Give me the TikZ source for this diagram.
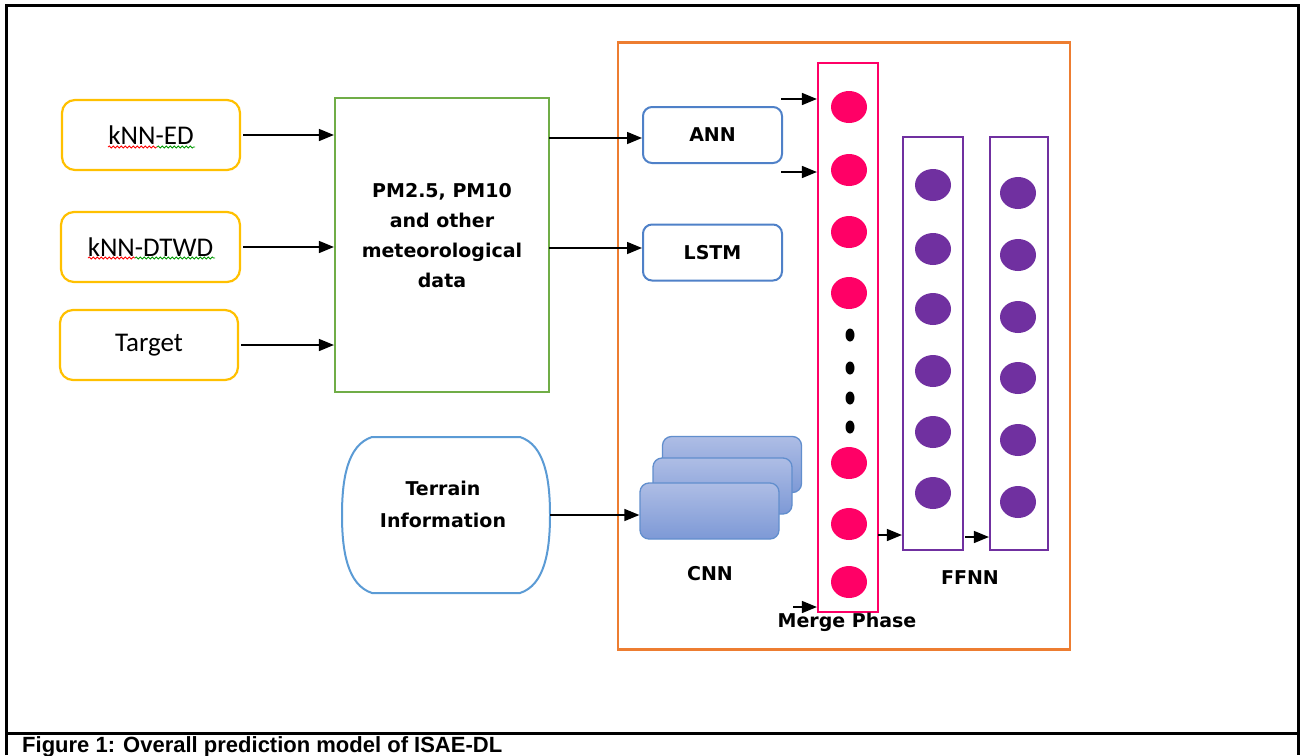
\documentclass[tikz,border=0pt]{standalone}
\usepackage{fontspec}
\setmainfont{Carlito}
\newfontfamily\boldsans{DejaVu Sans}
\newfontfamily\capfont{Liberation Sans}
\usetikzlibrary{arrows.meta,shapes.geometric,decorations.pathmorphing}
\definecolor{cyel}{HTML}{FFC000}
\definecolor{cgreen}{HTML}{70AD47}
\definecolor{corange}{HTML}{ED7D31}
\definecolor{cblue}{HTML}{4F81C8}
\definecolor{cpink}{HTML}{FF0066}
\definecolor{cpurple}{HTML}{7030A0}
\definecolor{cterr}{HTML}{5B9BD5}
\definecolor{cnntop}{HTML}{AEBDE5}
\definecolor{cnnbot}{HTML}{7D99D6}
\tikzset{
  inbox/.style={draw=cyel, line width=2.2pt, rounded corners=13pt, font=\fontsize{27}{30}\selectfont, inner sep=0pt},
  bl/.style={font=\boldsans\bfseries\fontsize{19}{30}\selectfont, align=center, inner sep=0pt},
  modbox/.style={draw=cblue, line width=2pt, rounded corners=9pt, minimum width=139pt, minimum height=56pt, inner sep=0pt},
  cnnbox/.style={draw=cblue!90, line width=1.3pt, rounded corners=9pt, minimum width=139pt, minimum height=56pt, top color=cnntop, bottom color=cnnbot, inner sep=0pt},
  arr/.style={-{Triangle[length=15pt,width=12pt]}, line width=1.5pt, black},
  rdot/.style={ellipse, fill=cpink, minimum width=36pt, minimum height=32pt, inner sep=0pt},
  pdot/.style={ellipse, fill=cpurple, minimum width=36pt, minimum height=32pt, inner sep=0pt},
  kdot/.style={ellipse, fill=black, minimum width=9pt, minimum height=13pt, inner sep=0pt},
  squig/.style={decorate, decoration={snake, amplitude=1pt, segment length=4pt}, line width=0.8pt},
}
\begin{document}
\begin{tikzpicture}[x=1pt,y=-1pt]
\useasboundingbox (0,0) rectangle (1301,755);
\fill[white] (0,0) rectangle (1301,755);
% frame
\draw[line width=3pt] (6,755) -- (6,5) -- (1298,5) -- (1298,755);
\draw[line width=3pt] (6,733) -- (1298,733);
\node[anchor=base west, inner sep=0pt, font=\capfont\bfseries\fontsize{22}{24}\selectfont] (cap) at (22,752) {Figure 1: Overall prediction model of ISAE-DL};

% inputs
\node[inbox, minimum width=178pt, minimum height=70pt] (knned) at (151,135) {kNN-ED};
\node[inbox, minimum width=179pt, minimum height=70pt] (kdtwd) at (150.5,247) {kNN-DTWD};
\node[inbox, minimum width=178pt, minimum height=70pt] (target) at (149,345) {Target};
\draw[squig, red] (108,147) -- (157,147);
\draw[squig, green!60!black] (157,147) -- (195,147);
\draw[squig, red] (88,258) -- (135,258);
\draw[squig, green!60!black] (135,258) -- (215,258);

% data box
\node[draw=cgreen, line width=2.2pt, minimum width=214pt, minimum height=294pt, inner sep=0pt] (data) at (442,245) {};
\node[bl] (datatxt) at (442,236) {PM2.5, PM10\\and other\\meteorological\\data};

\draw[arr, shorten <=2pt] (knned.east) -- (knned.east -| data.west);
\draw[arr, shorten <=2pt] (kdtwd.east) -- (kdtwd.east -| data.west);
\draw[arr, shorten <=2pt] (target.east) -- (target.east -| data.west);

% orange box
\node[draw=corange, line width=2.2pt, minimum width=452pt, minimum height=607pt, inner sep=0pt] (outer) at (844,346) {};

\node[modbox] (ann) at (712.5,135) {};
\node[bl] at (ann) {ANN};
\node[modbox] (lstm) at (712.5,252.5) {};
\node[bl] at (lstm) {LSTM};
\coordinate (d1) at (549,138);
\coordinate (d2) at (549,248);
\draw[arr] (d1) -- (d1 -| ann.west);
\draw[arr] (d2) -- (d2 -| lstm.west);

% CNN
\node[cnnbox] (cnn3) at (732,464.5) {};
\node[cnnbox] (cnn2) at (722.5,486) {};
\node[cnnbox] (cnn1) at (709.5,511) {};
\node[bl] (cnnlbl) at (710,574) {CNN};

% terrain
\node[minimum width=208pt, minimum height=156pt, inner sep=0pt] (terrain) at (446,515) {};
\draw[cterr, line width=2pt] (372,437) -- (520,437) .. controls (545,445) and (550,480) .. (550,515) .. controls (550,550) and (545,585) .. (520,593) -- (372,593) .. controls (347,585) and (342,550) .. (342,515) .. controls (342,480) and (347,445) .. cycle;
\node[bl, font=\boldsans\bfseries\fontsize{19}{32}\selectfont] (terrtxt) at (443,504) {Terrain\\Information};
\draw[arr] (terrain.east) -- (terrain.east -| cnn1.west);

% merge
\node[draw=cpink, line width=2.2pt, minimum width=60pt, minimum height=549pt, inner sep=0pt] (merge) at (848,337.5) {};
\foreach \y [count=\i] in {107,170,232,293,463,524,582} \node[rdot] (r\i) at (849,\y) {};
\foreach \y [count=\i] in {335,368,398,427} \node[kdot] (k\i) at (850,\y) {};
\node[bl] (mergelbl) at (847,622) {Merge Phase};
\coordinate (mi1) at (781,99);
\coordinate (mi2) at (781,172);
\coordinate (mi3) at (793,607);
\draw[arr] (mi1) -- (mi1 -| merge.west);
\draw[arr] (mi2) -- (mi2 -| merge.west);
\draw[arr] (mi3) -- (mi3 -| merge.west);

% FFNN
\node[draw=cpurple, line width=2.2pt, minimum width=60pt, minimum height=413pt, inner sep=0pt] (ff1) at (933,343.5) {};
\node[draw=cpurple, line width=2.2pt, minimum width=58pt, minimum height=413pt, inner sep=0pt] (ff2) at (1019,343.5) {};
\foreach \y [count=\i] in {185,249,309,371,432,493} \node[pdot] (pa\i) at (933,\y) {};
\foreach \y [count=\i] in {193,255,317,378,440,502} \node[pdot] (pb\i) at (1018,\y) {};
\node[bl] (fflbl) at (970,578) {FFNN};
\coordinate (f1) at (878,535);
\coordinate (f2) at (965,537);
\draw[arr] (f1) -- (f1 -| ff1.west);
\draw[arr] (f2) -- (f2 -| ff2.west);
\end{tikzpicture}
\end{document}
